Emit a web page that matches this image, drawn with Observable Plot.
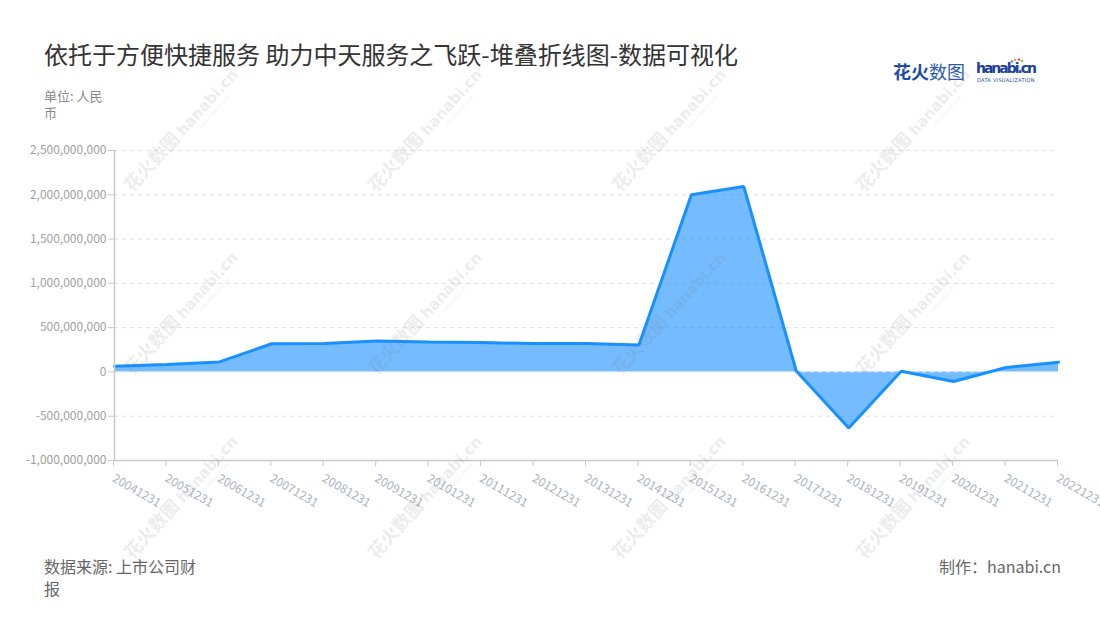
<!DOCTYPE html>
<html>
<head>
<meta charset="utf-8">
<script src="https://cdn.jsdelivr.net/npm/d3@7"></script>
<script src="https://cdn.jsdelivr.net/npm/@observablehq/plot@0.6"></script>
<style>
  html, body { margin: 0; padding: 0; background: #fff; }
  body { font-family: "Noto Sans CJK SC", "Noto Sans", sans-serif; }
  #wrap { position: relative; width: 1100px; height: 620px; overflow: hidden; }
  .abs { position: absolute; white-space: nowrap; }
  #title { left: 44px; top: 37px; font-size: 24px; color: #333; line-height: 34px; }
  #unit { left: 44px; top: 87px; font-size: 13px; color: #888; line-height: 17px; }
  #source { left: 44px; top: 555px; font-size: 16px; color: #666; line-height: 22px; }
  #maker { right: 39px; top: 555px; font-size: 16px; color: #666; line-height: 22px; }
  #logo { left: 893px; top: 58px; }
  #chart { position: absolute; left: 0; top: 130px; }
  #wm { position: absolute; left: 0; top: 0; pointer-events: none; }
</style>
</head>
<body>
<div id="wrap">
  <div id="title" class="abs">依托于方便快捷服务 助力中天服务之飞跃-堆叠折线图-数据可视化</div>
  <div id="unit" class="abs">单位: 人民<br>币</div>
  <div id="chart"></div>
  <div id="source" class="abs">数据来源: 上市公司财<br>报</div>
  <div id="maker" class="abs">制作：hanabi.cn</div>
  <div id="logo" class="abs">
    <svg width="150" height="30">
      <text x="0" y="21" font-size="18" font-weight="bold" fill="#1d4ea6" font-family="Noto Sans CJK SC">花火<tspan font-weight="normal" fill="#2a5bb0">数图</tspan></text>
      <text x="83" y="15" font-size="14" font-weight="bold" fill="#1c3f9e" font-family="DejaVu Sans" textLength="61">hanabi.cn</text>
      <text x="84" y="24" font-size="5" fill="#1c3f9e" font-family="DejaVu Sans" textLength="58" letter-spacing="0.5">DATA VISUALIZATION</text>
      <circle cx="122" cy="2" r="1.3" fill="#f5a623"/>
      <circle cx="126" cy="1.5" r="1.3" fill="#e94e77"/>
      <circle cx="129" cy="3" r="1.3" fill="#7ed321"/>
      <circle cx="119" cy="3.5" r="1.3" fill="#4a90e2"/>
    </svg>
  </div>
  <svg id="wm" width="1100" height="620"></svg>
</div>
<script>
const dates = ["20041231","20051231","20061231","20071231","20081231","20091231","20101231","20111231","20121231","20131231","20141231","20151231","20161231","20171231","20181231","20191231","20201231","20211231","20221231"];
const values = [64e6, 83e6, 113e6, 318e6, 322e6, 350e6, 339e6, 331e6, 320e6, 320e6, 305e6, 2.0e9, 2.093e9, 10e6, -632e6, 8e6, -108e6, 50e6, 108e6];
const yTicks = [-1e9, -5e8, 0, 5e8, 1e9, 1.5e9, 2e9, 2.5e9];

const data = dates.map((d, i) => ({date: d, value: values[i]}));
const fmt = d => d3.format(",")(d).replace("\u2212", "-");

const chart = Plot.plot({
  width: 1100,
  height: 400,
  marginTop: 20,
  marginBottom: 70,
  marginLeft: 114,
  marginRight: 42,
  style: {fontFamily: "Noto Sans CJK SC, Noto Sans, sans-serif", background: "transparent"},
  x: {type: "point", domain: dates, padding: 0, round: false},
  y: {domain: [-1e9, 2.5e9]},
  marks: [
    Plot.gridY(yTicks, {stroke: "#e0e0e0", strokeOpacity: 1, strokeDasharray: "4,4"}),
    Plot.areaY(data, {x: "date", y: "value", fill: "#1890ff", fillOpacity: 0.6}),
    Plot.ruleY([0], {stroke: "#eef3fa", strokeDasharray: "4,4", strokeWidth: 1}),
    Plot.lineY(data, {x: "date", y: "value", stroke: "#1890ff", strokeWidth: 3, strokeLinejoin: "miter"}),
    Plot.ruleX([dates[0]], {stroke: "#c8c8c8", strokeWidth: 1.5}),
    Plot.ruleY([-1e9], {stroke: "#c8c8c8", strokeWidth: 1.5}),
    Plot.axisY({ticks: yTicks, tickFormat: fmt, tickSize: 6, tickPadding: 2, fontSize: 12, color: "#a0a0a0", stroke: "#c8c8c8", label: null}),
    Plot.axisX({tickSize: 6, tickRotate: 30, textAnchor: "start", tickPadding: 11, dx: -1, fontSize: 12, color: "#adb2bf", stroke: "#c8c8c8", label: null})
  ]
});
document.getElementById("chart").appendChild(chart);

// watermarks
const wm = d3.select("#wm");
const cols = [181, 425, 669, 913];
const rows = [130, 313, 497];
for (const cy of rows) for (const cx of cols) {
  const g = wm.append("g").attr("transform", `translate(${cx},${cy}) rotate(-48)`).attr("opacity", 0.13);
  const t = g.append("text").attr("text-anchor", "middle").attr("fill", "#777").attr("font-weight", "bold").attr("y", 6);
  t.append("tspan").attr("font-size", 18).attr("font-family", "Noto Sans CJK SC").text("花火数图 ");
  t.append("tspan").attr("font-size", 15).attr("font-family", "DejaVu Sans").text("hanabi.cn");
  g.append("text").attr("x", 36).attr("y", 14).attr("text-anchor", "middle").attr("font-size", 4).attr("fill", "#777").attr("font-family", "DejaVu Sans").text("DATA VISUALIZATION");
}
</script>
</body>
</html>
